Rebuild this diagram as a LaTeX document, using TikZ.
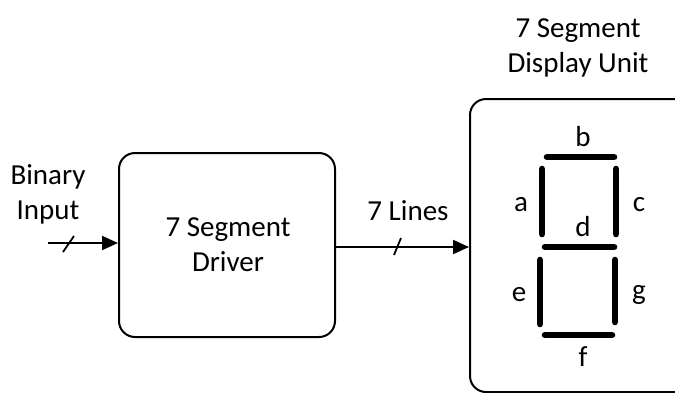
\documentclass[tikz,border=0pt]{standalone}
\usepackage{fontspec}
\setmainfont{Carlito}
\usetikzlibrary{arrows.meta}
\begin{document}
\begin{tikzpicture}[x=0.5pt,y=-0.5pt,
  lbl/.style={font=\fontsize{14.5}{17.4}\selectfont, inner sep=0pt, align=center},
  blk/.style={draw, line width=1pt, rounded corners=8pt, inner sep=0pt},
  conn/.style={line width=1pt, -{Triangle[length=8pt,width=7pt]}},
  seg/.style={line width=3.3pt, line cap=round},
  slashmark/.style={line width=0.9pt}]
\useasboundingbox (0,0) rectangle (675,392);
% blocks
\node[blk, minimum width=108pt, minimum height=92pt] (driver) at (227,245) {};
\node[lbl] (drvtxt) at (228,245) {7 Segment\\Driver};
\node[blk, minimum width=130pt, minimum height=146.5pt, anchor=north west] (disp) at (469,98) {};
\node[lbl] (disptitle) at (578,48) {7 Segment\\[0.5pt]Display Unit};
% input
\coordinate (inS) at (48,243);
\node[lbl] (bin) at (48,194) {Binary\\Input};
\draw[conn] (inS) -- (inS -| driver.west);
\coordinate (s1a) at (63,252); \coordinate (s1b) at (74,236);
\draw[slashmark] (s1a) -- (s1b);
% output
\coordinate (outS) at (0,247);
\draw[conn] (outS -| driver.east) -- (outS -| disp.west);
\node[lbl] (lines) at (408,211) {7 Lines};
\coordinate (s2a) at (394,255); \coordinate (s2b) at (401,238);
\draw[slashmark] (s2a) -- (s2b);
% segments
\draw[seg] (547,157) -- (614,157);   % b
\draw[seg] (542,169) -- (542,234);   % a
\draw[seg] (616,169) -- (616,234);   % c
\draw[seg] (545,247) -- (614,247);   % d
\draw[seg] (540,260) -- (540,324);   % e
\draw[seg] (615,260) -- (615,322);   % g
\draw[seg] (545,335) -- (612,335);   % f
% segment labels
\node[lbl] (lb) at (583,137) {b};
\node[lbl] (la) at (521,205) {a};
\node[lbl] (lc) at (639,205) {c};
\node[lbl] (ld) at (583,227) {d};
\node[lbl] (le) at (519,295) {e};
\node[lbl] (lg) at (639,295) {g};
\node[lbl] (lf) at (583,357) {f};
\end{tikzpicture}
\end{document}
